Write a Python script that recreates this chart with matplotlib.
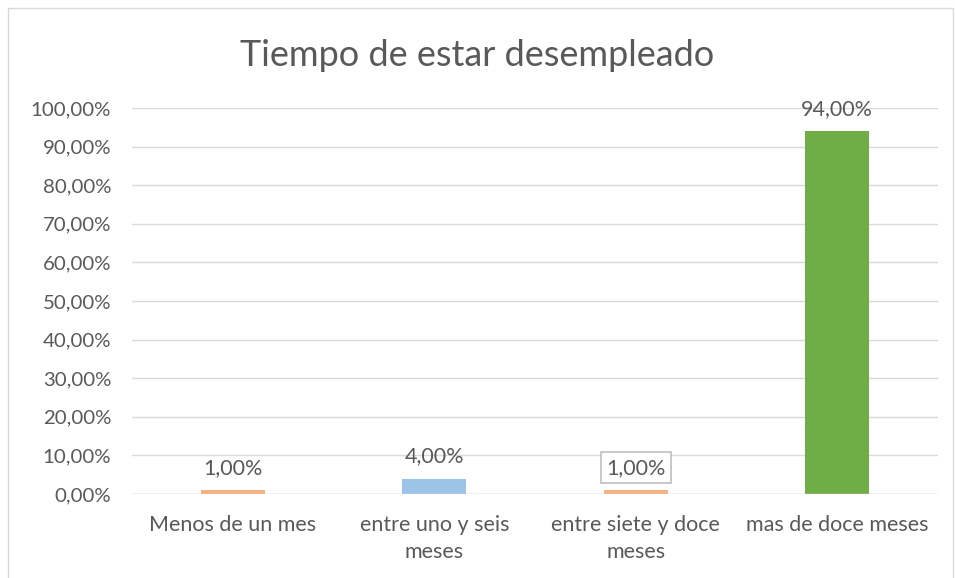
import matplotlib.pyplot as plt
import numpy as np

# Datos del grafico
categorias = ['Menos de un mes', 'entre uno y seis\nmeses',
              'entre siete y doce\nmeses', 'mas de doce meses']
valores = [1.0, 4.0, 1.0, 94.0]
colores = ['#F4B183', '#9DC3E6', '#F4B183', '#70AD47']
etiquetas = ['1,00%', '4,00%', '1,00%', '94,00%']
ticks_y = np.arange(0, 101, 10)

gris = '#595959'
plt.rcParams['font.family'] = ['Lato', 'DejaVu Sans']

fig = plt.figure(figsize=(9.55, 5.78), dpi=100)
# borde del area del grafico
fig.patches.append(plt.Rectangle((8 / 955, -0.1), 945 / 955, 1.1 - 8 / 578,
                                 transform=fig.transFigure, fill=False,
                                 edgecolor='#D9D9D9', linewidth=1))
ax = fig.add_axes([132 / 955, 1 - 494 / 578, 806 / 955, 386 / 578])

x = np.arange(len(categorias))
ax.bar(x, valores, width=0.32, color=colores, zorder=3)

ax.set_xlim(-0.5, len(categorias) - 0.5)
ax.set_ylim(0, 100)
ax.set_yticks(ticks_y)
ax.set_yticklabels([('%.2f%%' % t).replace('.', ',') for t in ticks_y],
                   fontsize=14.7, color=gris)
ax.set_xticks(x)
ax.set_xticklabels(categorias, fontsize=15.5, color=gris, linespacing=1.45)
ax.tick_params(length=0)
ax.tick_params(axis='x', pad=15)
ax.tick_params(axis='y', pad=15)
ax.grid(axis='y', color='#D9D9D9', linewidth=1, zorder=0)
for s in ax.spines.values():
    s.set_visible(False)
ax.axhline(0, color='#D9D9D9', linewidth=1, zorder=4)

for i, (v, lab) in enumerate(zip(valores, etiquetas)):
    kw = {}
    if i == 2:
        kw['bbox'] = dict(boxstyle='square,pad=0.25', facecolor='white',
                          edgecolor='#BFBFBF', linewidth=1.2)
    ax.annotate(lab, (i, v), xytext=(0, 9), textcoords='offset points',
                ha='center', va='bottom', fontsize=15.5, color=gris,
                zorder=5, **kw)

fig.text(0.5, 1 - 55 / 578, 'Tiempo de estar desempleado', ha='center',
         va='center', fontsize=26, color=gris)

fig.savefig('out.png', dpi=100)
